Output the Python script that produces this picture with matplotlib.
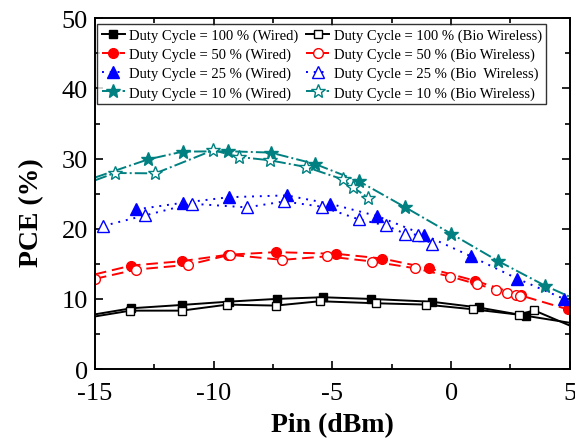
import matplotlib
matplotlib.use("Agg")
import matplotlib.pyplot as plt

plt.rcParams['font.family'] = ['Liberation Serif', 'DejaVu Serif']
plt.rcParams['axes.unicode_minus'] = False

# ---- data (Pin in dBm, PCE in %) ----
x100_w = [-15, -13.46, -11.35, -9.34, -7.35, -5.41, -3.39, -0.82, 1.16, 3.14, 5]
y100_w = [7.8, 8.67, 9.14, 9.62, 10.0, 10.24, 10.0, 9.6, 8.78, 7.6, 6.6]
x100_b = [-15, -13.5, -11.35, -9.42, -7.39, -5.53, -3.16, -1.05, 0.93, 2.86, 3.49, 5]
y100_b = [7.5, 8.33, 8.33, 9.19, 9.05, 9.67, 9.38, 9.19, 8.52, 7.75, 8.38, 6.2]

x50_w = [-15, -13.46, -11.35, -9.4, -7.37, -4.83, -2.9, -0.95, 1.0, 2.93, 4.93]
y50_w = [13.5, 14.76, 15.38, 16.3, 16.67, 16.43, 15.76, 14.38, 12.6, 10.5, 8.5]
x50_b = [-15, -13.25, -11.07, -9.32, -7.11, -5.23, -3.31, -1.53, -0.03, 1.1, 1.91, 2.36, 2.73, 2.89]
y50_b = [12.86, 14.19, 14.86, 16.29, 15.57, 16.07, 15.33, 14.38, 13.19, 12.1, 11.3, 10.86, 10.57, 10.48]

x25_w = [-13.26, -11.3, -9.36, -6.93, -5.1, -3.11, -1.13, 0.82, 2.78, 4.76]
y25_w = [22.76, 23.7, 24.5, 24.76, 23.57, 21.81, 19.14, 16.1, 12.9, 10.0]
x25_b = [-14.65, -12.9, -10.93, -8.59, -7.04, -5.45, -3.87, -2.76, -1.93, -1.41, -0.82]
y25_b = [20.4, 21.9, 23.57, 23.05, 23.9, 23.15, 21.33, 20.48, 19.29, 19.14, 17.86]

x10_w = [-15, -12.75, -11.3, -9.38, -7.6, -5.74, -3.87, -1.95, 0.0, 1.98, 3.95, 5]
y10_w = [27.3, 29.9, 31.0, 31.05, 30.86, 29.25, 26.76, 23.1, 19.3, 15.4, 11.9, 10.3]
x10_b = [-15, -14.16, -12.45, -10.02, -8.94, -7.63, -6.1, -4.57, -4.15, -3.49]
y10_b = [26.9, 27.95, 27.9, 31.2, 30.24, 29.76, 28.8, 27.05, 25.95, 24.43]

labels_w = ["Duty Cycle = 100 % (Wired)", "Duty Cycle = 50 % (Wired)",
            "Duty Cycle = 25 % (Wired)", "Duty Cycle = 10 % (Wired)"]
labels_b = ["Duty Cycle = 100 % (Bio Wireless)", "Duty Cycle = 50 % (Bio Wireless)",
            "Duty Cycle = 25 % (Bio  Wireless)", "Duty Cycle = 10 % (Bio Wireless)"]

teal = '#008080'
fig = plt.figure(figsize=(5.75, 4.39), dpi=100)
ax = fig.add_axes([0.165, 0.157, 0.826, 0.799])

lw = 1.4
ms = 7
h = []
h.append(ax.plot(x100_w, y100_w, '-', color='black', lw=lw, marker='s', ms=ms-1,
                 mfc='black', mec='black', markevery=slice(1, -1), label=labels_w[0])[0])
h.append(ax.plot(x50_w, y50_w, '--', color='red', lw=lw, marker='o', ms=ms,
                 mfc='red', mec='red', markevery=slice(1, None), dashes=(6, 3), label=labels_w[1])[0])
h.append(ax.plot(x25_w, y25_w, color='blue', lw=lw, ls=(0, (1, 3)), marker='^', ms=ms+1,
                 mfc='blue', mec='blue', label=labels_w[2])[0])
h.append(ax.plot(x10_w, y10_w, '-.', color=teal, lw=lw, marker='*', ms=ms+3,
                 mfc=teal, mec=teal, markevery=slice(1, -1), label=labels_w[3])[0])

h.append(ax.plot(x100_b, y100_b, '-', color='black', lw=lw, marker='s', ms=ms-1,
                 mfc='white', mec='black', markevery=slice(1, -1), label=labels_b[0])[0])
h.append(ax.plot(x50_b, y50_b, '--', color='red', lw=lw, marker='o', ms=ms,
                 mfc='white', mec='red', dashes=(6, 3), label=labels_b[1])[0])
h.append(ax.plot(x25_b, y25_b, color='blue', lw=lw, ls=(0, (1, 3)), marker='^', ms=ms+1,
                 mfc='white', mec='blue', label=labels_b[2])[0])
h.append(ax.plot(x10_b, y10_b, '-.', color=teal, lw=lw, marker='*', ms=ms+3,
                 mfc='white', mec=teal, markevery=slice(1, None), label=labels_b[3])[0])

ax.set_xlim(-15, 5)
ax.set_ylim(0, 50)
ax.set_xticks([-15, -10, -5, 0, 5])
ax.set_yticks([0, 10, 20, 30, 40, 50])
ax.set_xticks([-12.5, -7.5, -2.5, 2.5], minor=True)
ax.set_yticks([5, 15, 25, 35, 45], minor=True)
ax.tick_params(which='both', direction='in', top=True, right=True, width=1.2)
ax.tick_params(which='major', length=6, labelsize=19)
ax.tick_params(axis='x', which='major', pad=9)
ax.tick_params(axis='y', which='major', pad=5)
ax.tick_params(which='minor', length=3.5)
for s in ax.spines.values():
    s.set_linewidth(1.4)

ax.set_xlabel('Pin (dBm)', fontsize=20, fontweight='bold', labelpad=6)
ax.set_ylabel('PCE (%)', fontsize=20, fontweight='bold')
ax.yaxis.set_label_coords(-0.107, 0.449)

leg = ax.legend(handles=h, ncol=2, loc='upper left', bbox_to_anchor=(0.005, 0.984),
                fontsize=10.5, frameon=True, fancybox=False, edgecolor='black',
                handlelength=1.6, handletextpad=0.3, columnspacing=0.5,
                labelspacing=0.4, borderpad=0.3, borderaxespad=0.0)
leg.get_frame().set_linewidth(1.0)

fig.savefig('out.png', dpi=100)
